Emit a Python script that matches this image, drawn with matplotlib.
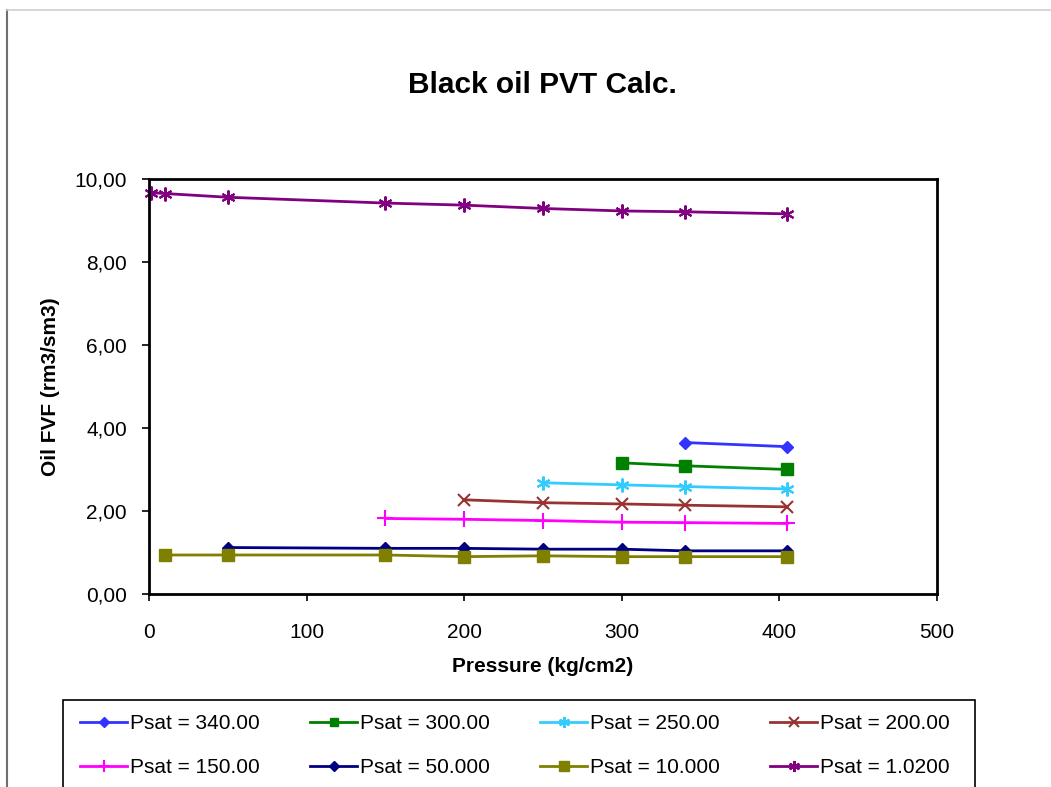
import matplotlib
matplotlib.use("Agg")
import matplotlib.pyplot as plt
from matplotlib.lines import Line2D
from matplotlib.patches import Rectangle
from matplotlib.ticker import FuncFormatter

plt.rcParams['font.family'] = ['Liberation Sans', 'DejaVu Sans']

# Data
labels = ["Psat = 340.00", "Psat = 300.00", "Psat = 250.00", "Psat = 200.00",
          "Psat = 150.00", "Psat = 50.000", "Psat = 10.000", "Psat = 1.0200"]

x_340 = [340, 405]
y_340 = [3.65, 3.55]
x_300 = [300, 340, 405]
y_300 = [3.16, 3.09, 3.00]
x_250 = [250, 300, 340, 405]
y_250 = [2.68, 2.63, 2.59, 2.53]
x_200 = [200, 250, 300, 340, 405]
y_200 = [2.27, 2.20, 2.17, 2.14, 2.10]
x_150 = [150, 200, 250, 300, 340, 405]
y_150 = [1.82, 1.80, 1.77, 1.73, 1.72, 1.70]
x_50 = [50, 150, 200, 250, 300, 340, 405]
y_50 = [1.12, 1.10, 1.10, 1.08, 1.08, 1.04, 1.04]
x_10 = [10, 50, 150, 200, 250, 300, 340, 405]
y_10 = [0.94, 0.94, 0.94, 0.90, 0.92, 0.90, 0.90, 0.90]
x_1 = [1.02, 10, 50, 150, 200, 250, 300, 340, 405]
y_1 = [9.67, 9.65, 9.56, 9.42, 9.37, 9.29, 9.23, 9.21, 9.16]

xs = [x_340, x_300, x_250, x_200, x_150, x_50, x_10, x_1]
ys = [y_340, y_300, y_250, y_200, y_150, y_50, y_10, y_1]
colors = ["#3333FF", "#008000", "#33CCFF", "#993333", "#FF00FF", "#000080", "#808000", "#800080"]
markers = ["D", "s", (6, 2, 0), "x", "+", "D", "s", (6, 2, 0)]
msizes = [6, 8, 10, 9, 11, 6, 9, 10]

x_ticks = [0, 100, 200, 300, 400, 500]
y_ticks = [0, 2, 4, 6, 8, 10]

W, H = 1051, 787
fig = plt.figure(figsize=(W / 100, H / 100), dpi=100)

# Outer chart border
fig.add_artist(Line2D([7 / W, 7 / W], [0, 1 - 10 / H], transform=fig.transFigure,
                      color="#707070", lw=1.5))
fig.add_artist(Line2D([7 / W, 1], [1 - 10 / H, 1 - 10 / H], transform=fig.transFigure,
                      color="#d0d0d0", lw=1.2))

ax = fig.add_axes([149 / W, 1 - 594 / H, (937 - 149) / W, (594 - 179) / H])

handles = []
for x, y, c, m, ms, lab in zip(xs, ys, colors, markers, msizes, labels):
    mew = 1.5 if m in ("x", "+") or isinstance(m, tuple) else 1
    h, = ax.plot(x, y, color=c, lw=2, marker=m, markersize=ms, markeredgewidth=mew,
                 markerfacecolor=c, markeredgecolor=c, label=lab, clip_on=False)
    handles.append(h)

ax.set_xlim(0, 500)
ax.set_ylim(0, 10)
ax.set_xticks(x_ticks)
ax.set_yticks(y_ticks)
ax.yaxis.set_major_formatter(FuncFormatter(lambda v, p: f"{v:.2f}".replace(".", ",")))
ax.tick_params(axis="both", direction="out", length=5, width=1.2, labelsize=15,
               colors="black")
ax.tick_params(axis="x", pad=16)
ax.tick_params(axis="y", pad=11)
for s in ax.spines.values():
    s.set_linewidth(2)
    s.set_color("black")

ax.set_xlabel("Pressure (kg/cm2)", fontsize=15, fontweight="bold", labelpad=11)
ax.set_ylabel("Oil FVF (rm3/sm3)", fontsize=15, fontweight="bold", labelpad=10)

fig.text(542 / W, 1 - 85 / H, "Black oil PVT Calc.", fontsize=21.5, fontweight="bold",
         ha="center", va="center")

# Legend frame
fig.add_artist(Rectangle((63 / W, -0.01), (975 - 63) / W, 0.01 + 1 - 700 / H,
                         transform=fig.transFigure, facecolor="white",
                         edgecolor="black", lw=1.2, zorder=1))

order = [0, 4, 1, 5, 2, 6, 3, 7]
leg = fig.legend([handles[i] for i in order], [labels[i] for i in order],
                 loc="upper left", bbox_to_anchor=(80 / W, 1 - 714 / H),
                 ncol=4, fontsize=15, frameon=False,
                 handlelength=2.26, handletextpad=0.15,
                 labelspacing=1.2, borderpad=0, columnspacing=2.4, borderaxespad=0)
leg.set_zorder(2)
for lh in leg.legend_handles:
    lh.set_markersize(lh.get_markersize() * 0.8)

fig.savefig("out.png", dpi=100)
